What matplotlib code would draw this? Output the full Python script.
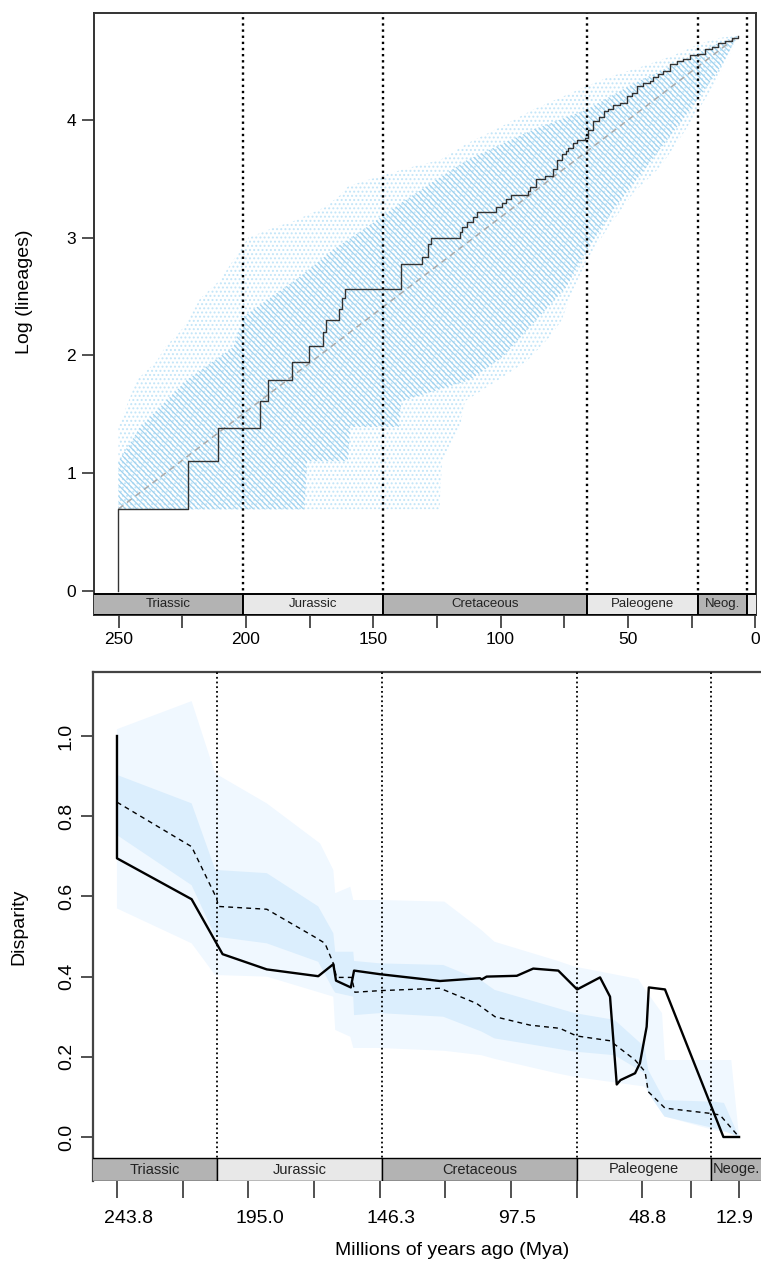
import numpy as np
import matplotlib
matplotlib.use("Agg")
import matplotlib.pyplot as plt
from matplotlib.patches import Rectangle
from matplotlib.ticker import FixedLocator, NullFormatter

plt.rcParams['font.family'] = ['Liberation Sans', 'DejaVu Sans']
plt.rcParams['hatch.linewidth'] = 0.9

# ---------------- top panel data (lineages through time) ----------------
ltt_times = [250.1, 250.1, 222.7, 210.9, 194.4, 191.2, 181.8, 175.1, 169.6, 168.7,
             163.3, 162.4, 161.0, 139.0, 130.7, 128.4, 127.3, 116.0, 115.1, 113.1,
             110.7, 109.2, 101.8, 99.6, 97.9, 95.9, 89.4, 88.5, 86.2, 82.4, 79.3,
             78.0, 76.0, 74.4, 73.4, 71.4, 70.1, 66.8, 65.5, 63.6, 61.2, 59.4, 57.7,
             55.7, 53.1, 50.5, 48.3, 46.3, 43.9, 41.3, 40.0, 38.0, 36.1, 33.5, 30.8,
             28.2, 25.6, 22.3, 19.7, 17.1, 14.5, 11.9, 9.2, 6.6]
ltt_lineages = [1, 2, 3, 4, 5, 6, 7, 8, 9, 10,
                11, 12, 13, 16, 17, 19, 20, 21, 22, 23,
                24, 25, 26, 27, 28, 29, 30, 31, 33, 34, 36,
                39, 41, 42, 43, 45, 46, 47, 50, 54, 56, 59, 60,
                62, 63, 67, 69, 73, 75, 76, 79, 81, 83, 88, 90,
                92, 95, 96, 100, 102, 105, 107, 110, 112]
mean_times = [250.1, 6.6]
mean_lineages = [2, 112]

outer_up_t = [250.1, 242.9, 235.1, 231.8, 225.9, 222.7, 218.1, 210.2, 199.1, 188.6,
              181.4, 169.0, 163.1, 159.8, 143.4, 131.7, 123.8, 113.3, 100.2, 87.2,
              71.4, 58.3, 45.2, 32.2, 21.7, 13.8, 6.6]
outer_up_v = [1.39, 1.79, 1.95, 2.07, 2.20, 2.30, 2.48, 2.64, 3.00, 3.09,
              3.14, 3.26, 3.36, 3.44, 3.55, 3.62, 3.66, 3.80, 3.94, 4.09,
              4.24, 4.36, 4.45, 4.55, 4.65, 4.70, 4.72]
outer_lo_t = [250.1, 124.0, 123.0, 116.0, 114.0, 101.0, 89.7, 80.6, 76.0, 72.7, 66.2,
              58.3, 47.9, 37.4, 28.2, 21.7, 15.1, 8.6, 6.6]
outer_lo_v = [0.69, 0.69, 1.10, 1.39, 1.61, 1.79, 1.95, 2.16, 2.30, 2.50, 2.81,
              3.07, 3.38, 3.60, 3.89, 4.11, 4.34, 4.62, 4.72]
core_up_t = [250.1, 241.6, 223.3, 205.0, 201.0, 191.8, 178.8, 165.7, 152.6, 139.5,
             127.7, 113.3, 87.2, 66.2, 47.9, 28.2, 15.1, 6.6]
core_up_v = [1.10, 1.39, 1.79, 2.07, 2.33, 2.47, 2.67, 2.90, 3.09, 3.29,
             3.46, 3.66, 3.92, 4.09, 4.31, 4.51, 4.65, 4.72]
core_lo_t = [250.1, 177.0, 176.0, 160.0, 159.0, 140.0, 139.0, 112.0, 99.0, 86.0,
             74.2, 66.8, 55.0, 41.7, 28.6, 15.1, 6.6]
core_lo_v = [0.69, 0.69, 1.10, 1.10, 1.39, 1.39, 1.61, 1.79, 1.99, 2.30,
             2.58, 2.87, 3.26, 3.63, 4.00, 4.40, 4.72]

top_periods = ['Triassic', 'Jurassic', 'Cretaceous', 'Paleogene', 'Neog.', '']
top_bounds = [262.0, 201.3, 146.2, 66.0, 22.5, 3.2, -1.0]
top_dotted = [201.3, 146.2, 66.0, 22.5, 3.2]
top_yticks = [0, 1, 2, 3, 4]
top_xmajor = [250, 200, 150, 100, 50, 0]
top_xminor = [225, 175, 125, 75, 25]

# ---------------- bottom panel data (disparity through time) ----------------
obs_t = [243.8, 243.8, 216.1, 204.6, 188.2, 169.1, 163.5, 162.5, 157.0, 155.8,
         146.2, 123.9, 109.1, 108.4, 106.6, 95.4, 89.3, 80.0, 73.0, 64.5,
         60.8, 58.3, 56.9, 51.5, 49.7, 47.2, 46.4, 40.4, 18.7, 12.9]
obs_v = [1.0, 0.695, 0.593, 0.456, 0.418, 0.401, 0.431, 0.390, 0.373, 0.415,
         0.406, 0.389, 0.396, 0.393, 0.400, 0.402, 0.420, 0.415, 0.368, 0.398,
         0.350, 0.131, 0.142, 0.159, 0.184, 0.275, 0.373, 0.368, 0.0, 0.0]
med_t = [243.8, 216.1, 206.8, 206.2, 188.2, 169.7, 166.6, 163.5, 162.3, 156.7,
         155.5, 146.2, 123.9, 110.3, 103.5, 90.5, 79.4, 73.2, 60.8, 51.5,
         47.8, 46.6, 40.4, 23.7, 20.0, 12.9]
med_v = [0.835, 0.724, 0.595, 0.575, 0.568, 0.496, 0.483, 0.433, 0.398, 0.398,
         0.361, 0.365, 0.371, 0.333, 0.300, 0.279, 0.271, 0.252, 0.240, 0.192,
         0.163, 0.113, 0.072, 0.059, 0.055, 0.0]
in_t = [243.8, 216.1, 207.3, 188.2, 169.1, 163.5, 162.8, 156.1, 155.8, 146.2,
        122.7, 108.5, 103.7, 74.0, 59.1, 48.0, 46.6, 40.6, 22.2, 18.5, 12.9]
in_up = [0.903, 0.832, 0.666, 0.658, 0.575, 0.508, 0.462, 0.462, 0.439, 0.433,
         0.429, 0.390, 0.367, 0.309, 0.292, 0.225, 0.167, 0.092, 0.088, 0.085, 0.0]
in_lo = [0.753, 0.628, 0.500, 0.483, 0.437, 0.367, 0.360, 0.350, 0.304, 0.309,
         0.300, 0.263, 0.246, 0.213, 0.204, 0.159, 0.110, 0.051, 0.022, 0.015, 0.0]
out_t = [243.8, 216.1, 207.4, 188.2, 168.4, 163.5, 162.8, 157.2, 156.1, 146.2,
         122.3, 108.5, 103.7, 80.6, 74.0, 50.3, 48.0, 41.5, 40.4, 22.2, 15.8, 12.9]
out_up = [1.017, 1.087, 0.907, 0.832, 0.732, 0.666, 0.608, 0.624, 0.591, 0.591,
          0.587, 0.516, 0.487, 0.440, 0.425, 0.394, 0.370, 0.309, 0.192, 0.192, 0.192, 0.0]
out_lo = [0.570, 0.483, 0.404, 0.400, 0.360, 0.350, 0.267, 0.250, 0.222, 0.222,
          0.215, 0.204, 0.195, 0.159, 0.150, 0.128, 0.126, 0.060, 0.051, 0.017, 0.010, 0.0]

bot_periods = ['Triassic', 'Jurassic', 'Cretaceous', 'Paleogene', 'Neoge.']
bot_bounds = [260.0, 206.7, 145.4, 73.1, 23.3, -20.0]
bot_dotted = [206.7, 145.4, 73.1, 23.3]
bot_yticks = [0.0, 0.2, 0.4, 0.6, 0.8, 1.0]
bot_tick_pos = [243.8, 219.4, 195.0, 170.6, 146.3, 121.9, 97.5, 73.1, 48.8, 30.8, 12.9]
bot_labels = ['243.8', '195.0', '146.3', '97.5', '48.8', '12.9']
bot_label_pos = [239.7, 190.9, 142.2, 95.3, 46.9, 14.8]

W, H = 761, 1267
fig = plt.figure(figsize=(W / 100, H / 100), dpi=100)


def px_axes(l, t, r, b):
    return fig.add_axes([l / W, 1 - b / H, (r - l) / W, (b - t) / H])


def period_bar(ax, bounds, names, frac, fs, edge_lw, vis_right):
    tr = ax.get_xaxis_transform()
    xl = ax.get_xlim()[0]
    for i, name in enumerate(names):
        x0, x1 = bounds[i], bounds[i + 1]
        col = '#b3b3b3' if i % 2 == 0 else '#e8e8e8'
        ax.add_patch(Rectangle((x0, 0), x1 - x0, frac, transform=tr,
                               facecolor=col, edgecolor='black', lw=edge_lw,
                               zorder=5, clip_on=True))
        a = min(x0, xl)
        b = max(x1, vis_right)
        if name:
            ax.text((a + b) / 2, frac / 2, name, transform=tr, ha='center', va='center',
                    fontsize=fs, color='#222222', zorder=6, clip_on=False)


def interp_desc(tq, t, v):
    return np.interp(-np.asarray(tq), -np.asarray(t), np.asarray(v))


# ================= TOP PANEL =================
ax1 = px_axes(94, 13, 756, 615)
ax1.set_xlim(259.7, -0.3)
ax1.set_ylim(-0.208, 4.911)

t_grid_o = np.array(sorted(set(outer_up_t + outer_lo_t), reverse=True))
ax1.fill_between(t_grid_o, interp_desc(t_grid_o, outer_lo_t, outer_lo_v),
                 interp_desc(t_grid_o, outer_up_t, outer_up_v),
                 facecolor='none', edgecolor='#c3e5f8', hatch='....', lw=0, zorder=1)
t_grid_c = np.array(sorted(set(core_up_t + core_lo_t), reverse=True))
ax1.fill_between(t_grid_c, interp_desc(t_grid_c, core_lo_t, core_lo_v),
                 interp_desc(t_grid_c, core_up_t, core_up_v),
                 facecolor='none', edgecolor='#9fd2ef', hatch='\\\\\\\\\\\\', lw=0, zorder=2)

ax1.plot(mean_times, np.log(mean_lineages), color='#aaaaaa', lw=1.1,
         dashes=(4, 3), zorder=3)
ax1.step(ltt_times, np.log(ltt_lineages), where='post', color='#333333', lw=1.0, zorder=4)

for b in top_dotted:
    ax1.axvline(b, color='black', lw=1.7, ls=(0, (1, 1.6)), zorder=3)
period_bar(ax1, top_bounds, top_periods, 21 / 602, 9.5, 1.4, -0.3)

ax1.set_yticks(top_yticks)
ax1.set_yticklabels([str(v) for v in top_yticks])
ax1.xaxis.set_major_locator(FixedLocator(top_xmajor))
ax1.xaxis.set_minor_locator(FixedLocator(top_xminor))
ax1.xaxis.set_minor_formatter(NullFormatter())
ax1.set_xticklabels([str(v) for v in top_xmajor])
ax1.tick_params(axis='both', which='both', direction='out', length=9, width=1.1,
                labelsize=12.5, color='#222222')
ax1.tick_params(axis='y', pad=4)
ax1.tick_params(axis='x', pad=3)
for s in ax1.spines.values():
    s.set_linewidth(1.4)
    s.set_color('#333333')
ax1.set_ylabel('Log (lineages)', fontsize=14)
ax1.yaxis.set_label_coords(-0.092, 0.537)

# ================= BOTTOM PANEL =================
ax2 = px_axes(93, 672, 811, 1181)
ax2.set_xlim(252.7, -13.8)
ax2.set_ylim(-0.1097, 1.1596)

ax2.fill_between(out_t, out_lo, out_up, facecolor='#f0f8ff', lw=0, zorder=1)
ax2.fill_between(in_t, in_lo, in_up, facecolor='#dbeefd', lw=0, zorder=2)
ax2.plot(med_t, med_v, color='black', lw=1.0, dashes=(3.5, 3), zorder=3)
ax2.plot(obs_t, obs_v, color='black', lw=1.7, zorder=4)
for b in bot_dotted:
    ax2.axvline(b, color='black', lw=1.3, ls=(0, (1, 1.6)), zorder=3)
period_bar(ax2, bot_bounds, bot_periods, 23 / 509, 10.5, 1.0, 4.7)

ax2.set_yticks(bot_yticks)
ax2.set_yticklabels([f'{v:.1f}' for v in bot_yticks], rotation=90, va='center')
ax2.xaxis.set_minor_locator(FixedLocator(bot_tick_pos))
ax2.xaxis.set_minor_formatter(NullFormatter())
ax2.set_xticks(bot_label_pos)
ax2.set_xticklabels(bot_labels)
ax2.tick_params(axis='x', which='major', length=0, labelsize=14, pad=21)
ax2.tick_params(axis='x', which='minor', direction='out', length=12, width=1.1, color='#222222')
ax2.tick_params(axis='y', direction='out', length=9, width=1.1, labelsize=14,
                color='#222222', pad=4)
for s in ax2.spines.values():
    s.set_linewidth(1.6)
    s.set_color('#444444')
ax2.spines['bottom'].set_visible(False)
ax2.set_ylabel('Disparity', fontsize=14)
ax2.yaxis.set_label_coords(-0.092, 0.5)
ax2.set_xlabel('Millions of years ago (Mya)', fontsize=14, labelpad=11)

fig.savefig('out.png', dpi=100)
